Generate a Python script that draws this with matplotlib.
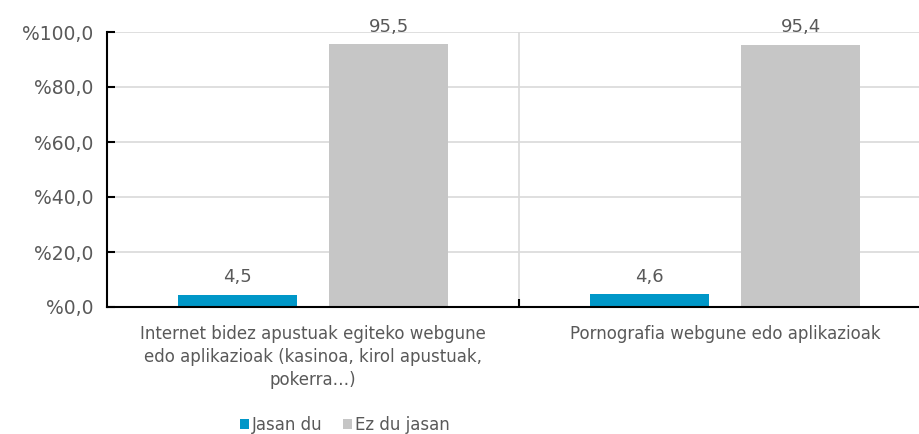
import matplotlib.pyplot as plt
import numpy as np

categories = ['Internet bidez apustuak egiteko webgune\nedo aplikazioak (kasinoa, kirol apustuak,\npokerra…)',
              'Pornografia webgune edo aplikazioak']
jasan_du = [4.5, 4.6]
ez_du_jasan = [95.5, 95.4]
yticks = [0, 20, 40, 60, 80, 100]

txt = '#595959'

fig = plt.figure(figsize=(9.19, 4.34), dpi=100)
ax = fig.add_axes([107 / 919, 127 / 434, 824 / 919, 275 / 434])

x = np.arange(len(categories))
w = 0.289
off = 0.184
b1 = ax.bar(x - off, jasan_du, w, color='#0097C8', label='Jasan du')
b2 = ax.bar(x + off, ez_du_jasan, w, color='#C6C6C6', label='Ez du jasan')

for bars, vals in ((b1, jasan_du), (b2, ez_du_jasan)):
    for b, v in zip(bars, vals):
        ax.text(b.get_x() + b.get_width() / 2, v + 3, f'{v:.1f}'.replace('.', ','),
                ha='center', va='bottom', fontsize=13, color=txt)

ax.set_xlim(-0.5, 1.5)
ax.set_ylim(0, 100)
ax.set_yticks(yticks)
ax.set_yticklabels([f'%{v:.1f}'.replace('.', ',') for v in yticks], fontsize=13.5, color=txt)
ax.tick_params(axis='y', direction='in', length=6, width=1.5, pad=10, color='black')
ax.set_xticks([0.5])
ax.set_xticklabels([''])
ax.tick_params(axis='x', direction='in', length=6, width=1.5)
ax.yaxis.grid(True, color='#D9D9D9', linewidth=1.2)
ax.axvline(0.5, color='#D9D9D9', linewidth=1.2, zorder=0)
ax.set_axisbelow(True)
for s in ('top', 'right'):
    ax.spines[s].set_visible(False)
ax.spines['left'].set_linewidth(1.5)
ax.spines['bottom'].set_linewidth(1.5)

for xi, lab in zip(x, categories):
    ax.text(xi, -6.5, lab, ha='center', va='top', fontsize=12, color=txt, linespacing=1.35)

fig.legend(handles=[b1, b2], loc='lower center', bbox_to_anchor=(345 / 919, -0.035), ncol=2,
           frameon=False, handlelength=0.55, handleheight=0.55, handletextpad=0.2,
           columnspacing=1.2, prop={'size': 12}, labelcolor=txt)

fig.savefig('out.png', dpi=100)
